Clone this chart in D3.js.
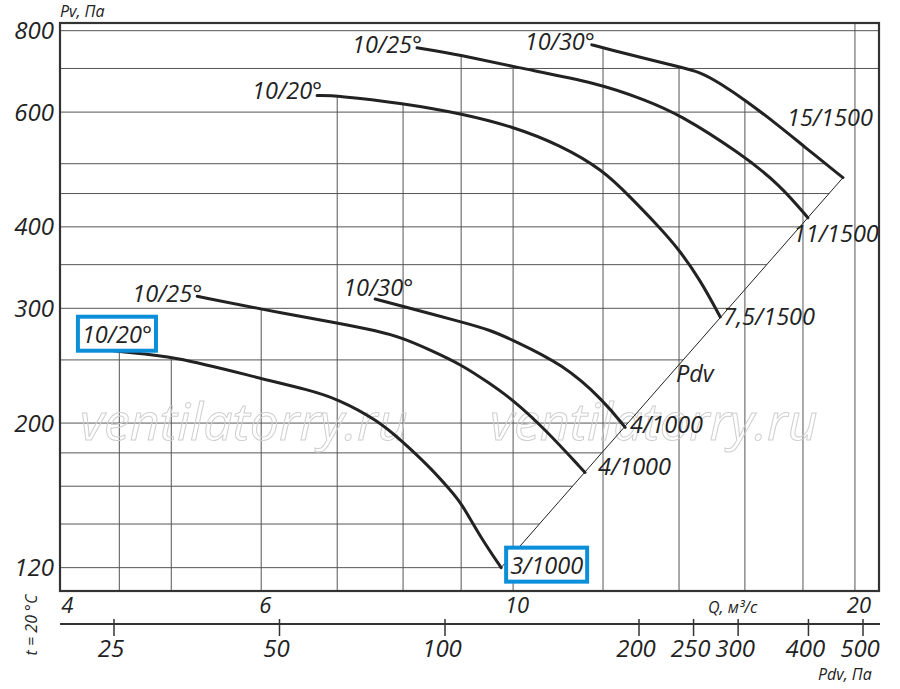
<!DOCTYPE html>
<html>
<head>
<meta charset="utf-8">
<title>Pv - Q</title>
<script src="https://cdn.jsdelivr.net/npm/d3@7/dist/d3.min.js"></script>
<style>
  body { margin: 0; background: #fff; }
  text { font-family: "Open Sans", sans-serif; font-style: italic; fill: #222; }
</style>
</head>
<body>
<div id="viz"></div>
<script>
// ---- data ----
var startNames = ["10/20°", "10/25°", "10/30°", "10/20°", "10/25°", "10/30°"];
var endNames = ["3/1000", "4/1000", "4/1000", "7,5/1500", "11/1500", "15/1500"];

// Q, m3/s  and  Pv, Pa
var q3_1000 = [4.30, 4.5, 5, 6, 6.6, 7, 7.6, 8, 8.45, 8.8, 9, 9.35, 9.76];
var pv3_1000 = [261, 257, 254, 234, 225, 218, 202, 187, 171, 158, 151, 134, 120];

var q4_1000a = [5.27, 6, 7, 7.6, 8, 8.45, 9, 9.54, 10, 10.63, 11.57];
var pv4_1000a = [313, 299, 285, 277, 270, 259, 246, 230, 217, 197, 168];

var q4_1000b = [7.56, 8, 9, 9.54, 10, 11.07, 12, 12.55];
var pv4_1000b = [310, 302, 286, 278, 268, 246, 217, 197];

var q7_5_1500 = [6.72, 7, 8, 9, 10, 11, 12, 12.67, 13.39, 13.97, 14.61, 15.22];
var pv7_5_1500 = [636, 636, 619, 597, 570, 534, 489, 445, 403, 371, 332, 291];

var q11_1500 = [8.23, 9, 10, 11.93, 13.07, 13.97, 15.85, 17.18, 18.18];
var pv11_1500 = [753, 734, 704, 664, 626, 597, 519, 464, 413];

var q15_1500 = [11.73, 12, 13.94, 14.61, 15.22, 16.01, 17.18, 18, 19.52];
var pv15_1500 = [761, 753, 705, 692, 664, 626, 570, 533, 476];

// dynamic pressure line (ends)
var pdvQ = [9.76, 19.52];
var pdvP = [120, 476];

// grid and ticks
var gridQ = [4.5, 5, 6, 7, 8, 9, 10, 12, 14, 16, 18];
var gridQFull = [20];
var gridP = [120, 140, 160, 180, 200, 250, 300, 350, 400, 450, 500, 600];
var gridPFull = [700, 800];
var pvTicks = [120, 200, 300, 400, 600, 800];
var qTicks = [4, 6, 10, 20];
var pdvTicks = [25, 50, 100, 200, 250, 300, 400, 500];

// ---- layout ----
var width = 900, height = 689;
var pLeft = 60, pRight = 879, pTop = 23, pBottom = 591;
var pdvAxisY = 624;
var startOffsets = [[-15, -5], [-65, 6], [-32, -3], [-65, 3], [-65, 5], [-67, 5]];
var endOffsets = [[9, 6], [13, 3], [5, 6], [3, 8], [-15, 24], [-56, -52]];
var blue = "#0b8fd9";

var x = d3.scaleLog().domain([3.99, 21.0]).range([pLeft, pRight]);
var y = d3.scaleLog().domain([110.5, 822]).range([pBottom, pTop]);
var xPdv = d3.scaleLog().domain([25, 100, 200, 500]).range([114, 445, 639, 863]);

var series = [
  [q3_1000, pv3_1000], [q4_1000a, pv4_1000a], [q4_1000b, pv4_1000b],
  [q7_5_1500, pv7_5_1500], [q11_1500, pv11_1500], [q15_1500, pv15_1500]
].map(function(s, i){
  return {
    pts: s[0].map(function(q, j){ return {q: q, p: s[1][j]}; }),
    start: startNames[i], end: endNames[i]
  };
});

var line = d3.line().x(d => x(d.q)).y(d => y(d.p)).curve(d3.curveBasis);
var area = d3.area().x(d => x(d.q)).y0(pBottom).y1(d => y(d.p)).curve(d3.curveBasis);

var svg = d3.select('#viz').append('svg')
  .attr('width', width).attr('height', height);

var defs = svg.append('defs');
// verticals: only under the curves
defs.append('clipPath').attr('id', 'clipV')
  .selectAll('path').data(series).join('path')
  .attr('d', d => area(d.pts));
// horizontals: left of the top curve and the Pdv line
var top15 = series[5].pts;
var pdvStart = [x(pdvQ[0]), y(pdvP[0])];
var hPath = 'M' + pLeft + ',' + pTop + 'L' + x(top15[0].q) + ',' + pTop + 'L' +
  line(top15).slice(1) + 'L' + pdvStart[0] + ',' + pdvStart[1] +
  'L' + pdvStart[0] + ',' + pBottom + 'L' + pLeft + ',' + pBottom + 'Z';
defs.append('clipPath').attr('id', 'clipH').append('path').attr('d', hPath);

// grid
var grid = svg.append('g').attr('stroke', '#555').attr('stroke-width', 1);
grid.append('g').attr('clip-path', 'url(#clipV)')
  .selectAll('line').data(gridQ).join('line')
  .attr('x1', d => x(d)).attr('x2', d => x(d))
  .attr('y1', pTop).attr('y2', pBottom);
grid.append('g').selectAll('line').data(gridQFull).join('line')
  .attr('x1', d => x(d)).attr('x2', d => x(d))
  .attr('y1', pTop).attr('y2', pBottom);
grid.append('g').attr('clip-path', 'url(#clipH)')
  .selectAll('line').data(gridP).join('line')
  .attr('x1', pLeft).attr('x2', pRight)
  .attr('y1', d => y(d)).attr('y2', d => y(d));
grid.append('g').selectAll('line').data(gridPFull).join('line')
  .attr('x1', pLeft).attr('x2', pRight)
  .attr('y1', d => y(d)).attr('y2', d => y(d));

// watermark
svg.append('g').selectAll('text').data([80, 490]).join('text')
  .attr('x', d => d).attr('y', 440)
  .attr('font-size', 52)
  .style('fill', 'none').attr('stroke', '#cfcfcf').attr('stroke-width', 1)
  .text('ventilatorry.ru');

// Pdv line
svg.append('line')
  .attr('x1', x(pdvQ[0])).attr('y1', y(pdvP[0]))
  .attr('x2', x(pdvQ[1])).attr('y2', y(pdvP[1]))
  .attr('stroke', '#222').attr('stroke-width', 1);
svg.append('text').attr('x', 676).attr('y', 382).attr('font-size', 23.5).text('Pdv');

// curves
svg.append('g').selectAll('path').data(series).join('path')
  .attr('d', d => line(d.pts))
  .attr('fill', 'none').attr('stroke', '#222').attr('stroke-width', 3)
  .attr('stroke-linecap', 'round');

// curve labels
var labels = svg.append('g').attr('font-size', 23.5);
series.forEach(function(s, i){
  var p0 = s.pts[0], p1 = s.pts[s.pts.length - 1];
  var t0 = labels.append('text')
    .attr('x', x(p0.q) + startOffsets[i][0]).attr('y', y(p0.p) + startOffsets[i][1])
    .text(s.start);
  var t1 = labels.append('text')
    .attr('x', x(p1.q) + endOffsets[i][0]).attr('y', y(p1.p) + endOffsets[i][1])
    .text(s.end);
  if (i === 0) {
    [t0, t1].forEach(function(t){
      var bb = t.node().getBBox();
      labels.insert('rect', function(){ return t.node(); })
        .attr('x', bb.x - 4).attr('y', bb.y - 1)
        .attr('width', bb.width + 8).attr('height', bb.height + 2)
        .attr('fill', '#fff').attr('stroke', blue).attr('stroke-width', 4);
    });
  }
});

// frame
svg.append('rect')
  .attr('x', pLeft).attr('y', pTop)
  .attr('width', pRight - pLeft).attr('height', pBottom - pTop)
  .attr('fill', 'none').attr('stroke', '#333').attr('stroke-width', 2.2);

// Pv tick labels
svg.append('g').attr('font-size', 24).attr('text-anchor', 'end')
  .selectAll('text').data(pvTicks).join('text')
  .attr('x', 54).attr('y', d => y(d) + 8.5).text(d => d);

// Q tick labels
svg.append('g').attr('font-size', 22)
  .selectAll('text').data(qTicks).join('text')
  .attr('text-anchor', (d, i) => i === 0 ? 'start' : 'middle')
  .attr('x', (d, i) => i === 0 ? x(d) : x(d) + 4)
  .attr('y', 613).text(d => d);

// Pdv axis
var pdvAxis = svg.append('g');
pdvAxis.append('line').attr('x1', pLeft).attr('x2', pRight + 1)
  .attr('y1', pdvAxisY).attr('y2', pdvAxisY)
  .attr('stroke', '#333').attr('stroke-width', 2);
pdvAxis.selectAll('.tk').data(pdvTicks).join('line').attr('class', 'tk')
  .attr('x1', d => xPdv(d)).attr('x2', d => xPdv(d))
  .attr('y1', pdvAxisY - 5).attr('y2', pdvAxisY + 12)
  .attr('stroke', '#333').attr('stroke-width', 1.5);
pdvAxis.selectAll('text').data(pdvTicks).join('text')
  .attr('font-size', 24).attr('text-anchor', 'middle')
  .attr('x', d => xPdv(d) - 3).attr('y', 657).text(d => d);

// axis titles
svg.append('text').attr('x', 60).attr('y', 17).attr('font-size', 16).text('Pv, Па');
svg.append('text').attr('x', 708).attr('y', 613).attr('font-size', 16).text('Q, м³/с');
svg.append('text').attr('x', 818).attr('y', 680).attr('font-size', 16).text('Pdv, Па');
svg.append('text').attr('font-size', 16).attr('text-anchor', 'middle')
  .attr('transform', 'translate(37,625) rotate(-90)').text('t = 20 °C');
</script>
</body>
</html>
